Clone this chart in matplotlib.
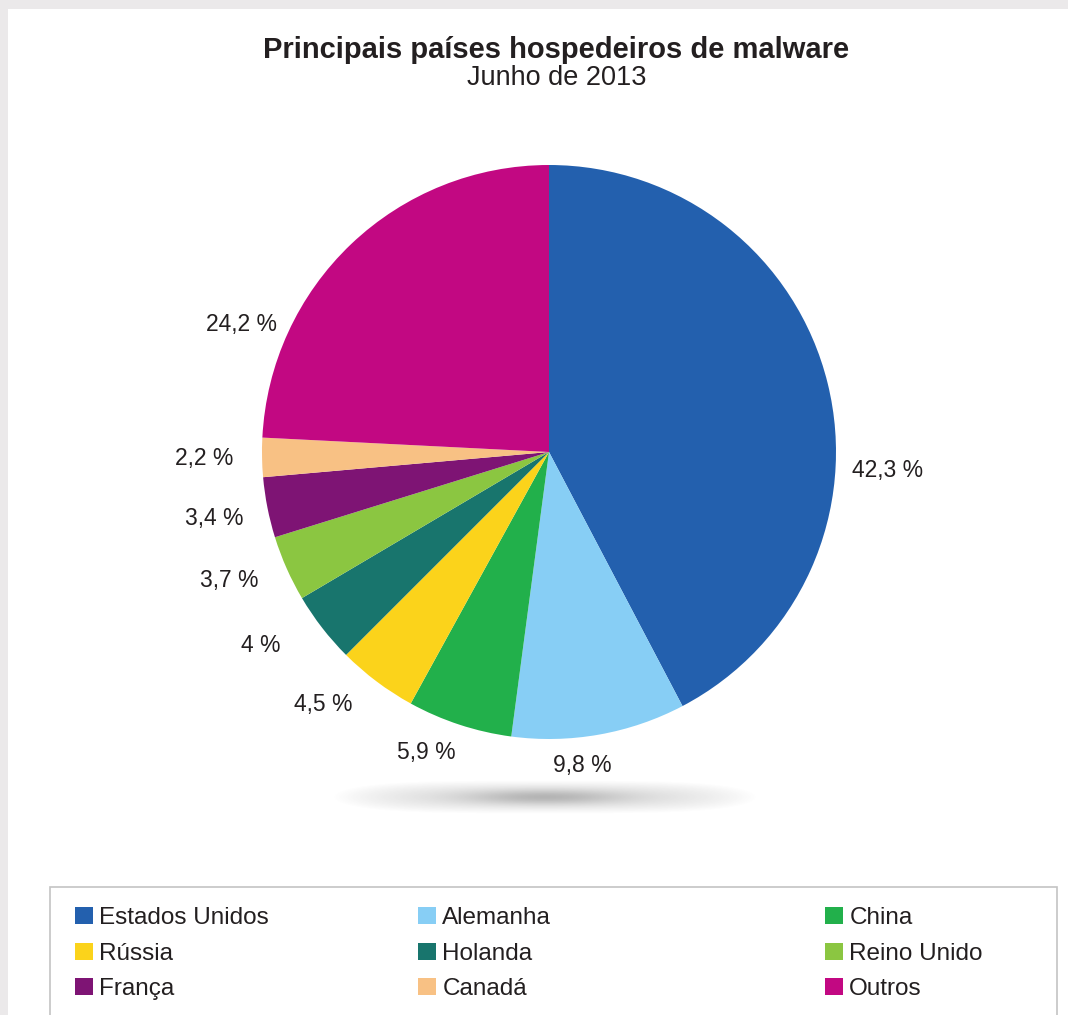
import numpy as np
import matplotlib.pyplot as plt
from matplotlib.patches import Rectangle

plt.rcParams['font.family'] = ['Liberation Sans', 'DejaVu Sans']

# Data
countries = ["Estados Unidos", "Alemanha", "China", "Rússia", "Holanda",
             "Reino Unido", "França", "Canadá", "Outros"]
shares = [42.3, 9.8, 5.9, 4.5, 4.0, 3.7, 3.4, 2.2, 24.2]
colors = ["#2360ae", "#87cef5", "#22b04b", "#fbd31b", "#18756d",
          "#8bc641", "#7e1474", "#f8c184", "#c20882"]

title = "Principais países hospedeiros de malware"
subtitle = "Junho de 2013"

# label placement tweaks (degrees / radius fraction)
label_shift = [-17, -4, -4, -5, -4, -2, 0, 0, 24]
label_rad = [1.18, 1.10, 1.13, 1.18, 1.21, 1.20, 1.19, 1.20, 1.16]

W, H = 1068, 1015
fig = plt.figure(figsize=(W / 100, H / 100), dpi=100, facecolor="#ebe9ea")

# white panel
fig.patches.append(Rectangle((8 / W, 0), 1 - 8 / W, 1 - 9 / H,
                             transform=fig.transFigure, facecolor="white",
                             edgecolor="none", zorder=-5))

fig.text(556 / W, 1 - 50 / H, title, ha="center", va="center",
         fontsize=21, fontweight="bold", color="#231f20")
fig.text(557 / W, 1 - 78 / H, subtitle, ha="center", va="center",
         fontsize=19.5, color="#231f20")

# shadow under the pie
sx0, sx1, sy = 332, 758, 797
sh_ax = fig.add_axes([sx0 / W, 1 - (sy + 28) / H, (sx1 - sx0) / W, 56 / H])
sh_ax.set_zorder(2)
xx, yy = np.meshgrid(np.linspace(-1, 1, 400), np.linspace(-1, 1, 90))
outer = np.clip(1 - (np.abs(xx) ** 4 + (yy / 0.6) ** 2), 0, 1) ** 1.1
inner = np.exp(-((xx / 0.38) ** 2 + (yy / 0.28) ** 2))
shade = 0.17 * outer + 0.30 * inner
rgba = np.zeros(xx.shape + (4,))
rgba[..., :3] = 0.38
rgba[..., 3] = shade
sh_ax.imshow(rgba, aspect="auto", interpolation="bilinear")
sh_ax.axis("off")

# pie
cx, cy, R = 549, 452, 287
ext = 1.4
ax = fig.add_axes([(cx - ext * R) / W, 1 - (cy + ext * R) / H,
                   2 * ext * R / W, 2 * ext * R / H])
ax.set_zorder(3)
wedges, _ = ax.pie(shares, colors=colors, startangle=90, counterclock=False,
                   wedgeprops=dict(linewidth=0))
ax.set_xlim(-ext, ext)
ax.set_ylim(-ext, ext)
ax.axis("off")

for w, v, d, r in zip(wedges, shares, label_shift, label_rad):
    ang = np.deg2rad((w.theta1 + w.theta2) / 2 + d)
    txt = f"{v:g}".replace(".", ",") + " %"
    ax.text(r * np.cos(ang), r * np.sin(ang), txt, ha="center", va="center",
            fontsize=16.5, color="#231f20")

# legend box
fig.patches.append(Rectangle((50 / W, -0.01), 1007 / W, (H - 887) / H + 0.01,
                             transform=fig.transFigure, facecolor="white",
                             edgecolor="#c4c4c4", linewidth=1.2, zorder=1))

col_x = [75, 418, 825]
for c, x0 in enumerate(col_x):
    idx = [c, c + 3, c + 6]
    leg = fig.legend([wedges[i] for i in idx], [countries[i] for i in idx],
                     loc="upper left", bbox_to_anchor=(x0 / W, 1 - 907 / H),
                     frameon=False, fontsize=17.5, handlelength=0.72,
                     handleheight=0.72, handletextpad=0.28, labelspacing=0.55,
                     borderpad=0, borderaxespad=0)
    for t in leg.get_texts():
        t.set_color("#231f20")

fig.savefig("out.png", dpi=100, facecolor=fig.get_facecolor())
